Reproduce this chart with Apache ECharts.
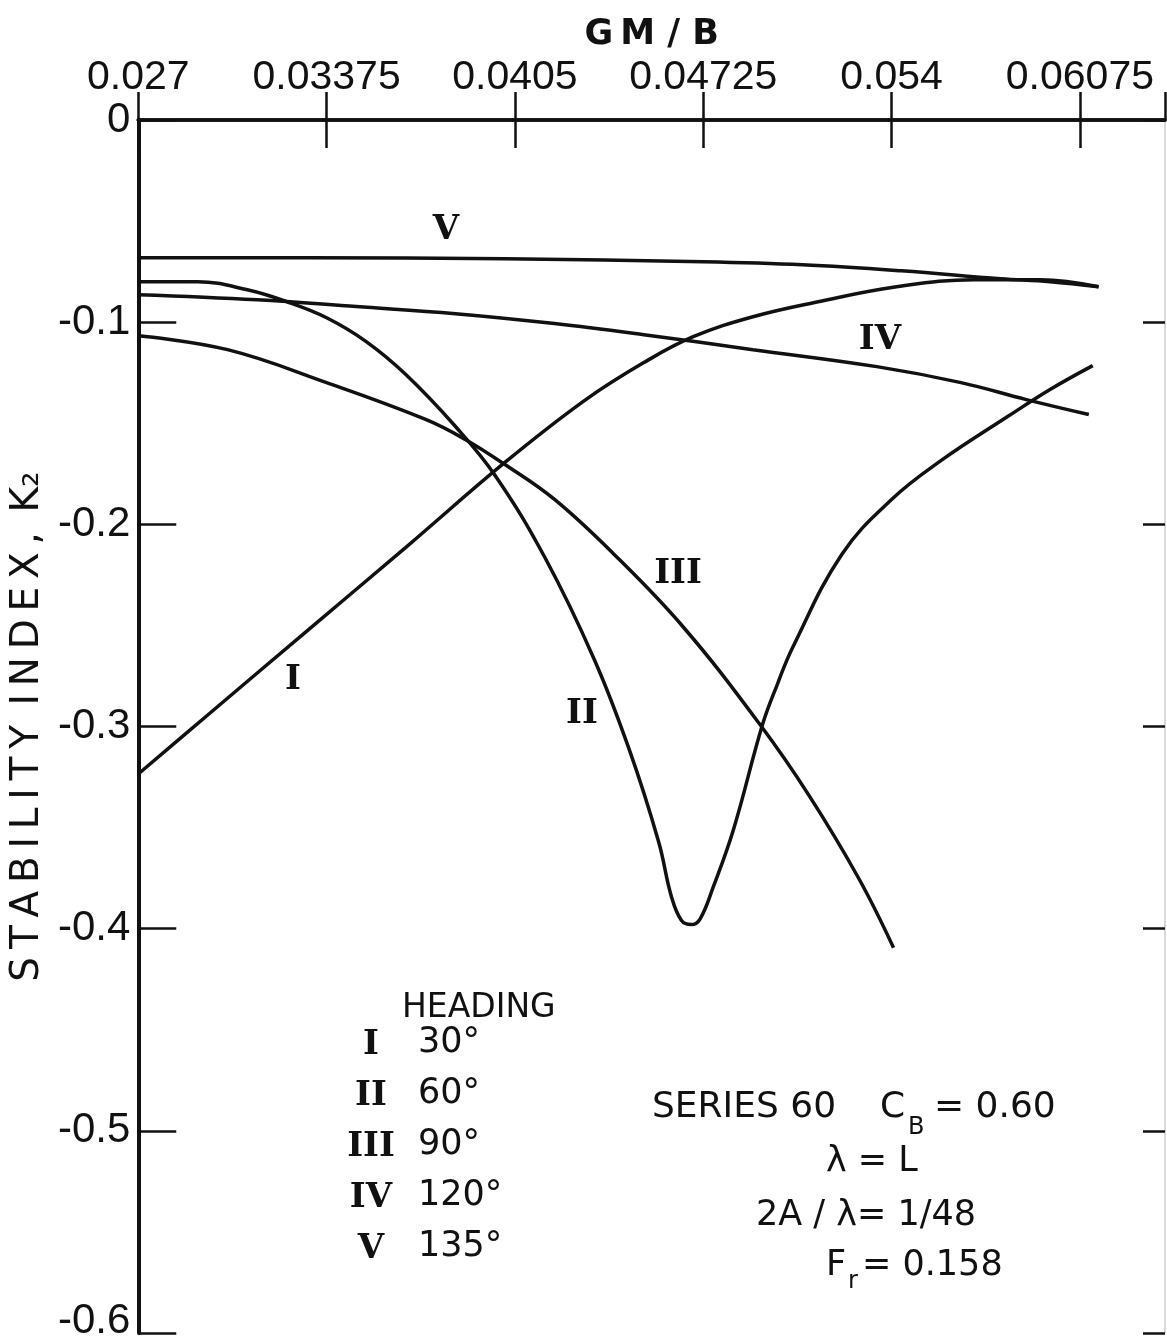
<!DOCTYPE html>
<html>
<head>
<meta charset="utf-8">
<script src="https://cdn.jsdelivr.net/npm/echarts@6/dist/echarts.min.js"></script>
<style>
html,body{margin:0;padding:0;background:#fff;}
#chart{width:1167px;height:1342px;}
</style>
</head>
<body>
<div id="chart"></div>
<script>
// ---- axis ticks ----
const xTickValues = [0.027, 0.03375, 0.0405, 0.04725, 0.054, 0.06075];
const xTickLabels = ['0.027', '0.03375', '0.0405', '0.04725', '0.054', '0.06075'];
const yTickValues = [0, -0.1, -0.2, -0.3, -0.4, -0.5, -0.6];
const yTickLabels = ['0', '-0.1', '-0.2', '-0.3', '-0.4', '-0.5', '-0.6'];

// ---- curves (GM/B, K2) ----
const headingNames = ['I', 'II', 'III', 'IV', 'V'];
const headingAngles = ['30°', '60°', '90°', '120°', '135°'];

const xI = [0.0270, 0.02949, 0.03304, 0.03659, 0.04014, 0.04299, 0.04512, 0.04689, 0.04903, 0.05137, 0.05418, 0.05698, 0.05933, 0.06142];
const yI = [-0.3235, -0.2943, -0.2528, -0.2114, -0.1694, -0.1388, -0.1200, -0.1072, -0.0973, -0.0899, -0.0825, -0.0790, -0.0790, -0.0825];

const xII = [0.0270, 0.02913, 0.03091, 0.03233, 0.03375, 0.03517, 0.03659, 0.03837, 0.03979, 0.04157, 0.04334, 0.04459, 0.04565, 0.04611, 0.04647, 0.04682, 0.04714, 0.04761, 0.04832, 0.04938, 0.04991, 0.05045, 0.05222, 0.05400, 0.05578, 0.05816, 0.05968, 0.06121];
const yII = [-0.0800, -0.0800, -0.0840, -0.0899, -0.0978, -0.1096, -0.1259, -0.1516, -0.1758, -0.2163, -0.2667, -0.3111, -0.3570, -0.3842, -0.3960, -0.3980, -0.3951, -0.3793, -0.3516, -0.2988, -0.2790, -0.2610, -0.2148, -0.1877, -0.1684, -0.1467, -0.1333, -0.1215];

const xIII = [0.0270, 0.03020, 0.03375, 0.03730, 0.03872, 0.04014, 0.04192, 0.04405, 0.04654, 0.04927, 0.05105, 0.05283, 0.05407];
const yIII = [-0.1067, -0.1136, -0.1299, -0.1481, -0.1580, -0.1704, -0.1877, -0.2148, -0.2509, -0.2988, -0.3343, -0.3753, -0.4094];

const xIV = [0.0270, 0.03126, 0.03482, 0.03837, 0.04192, 0.04512, 0.04903, 0.05347, 0.05649, 0.05883, 0.06107];
const yIV = [-0.0864, -0.0889, -0.0923, -0.0958, -0.1007, -0.1062, -0.1136, -0.1220, -0.1299, -0.1383, -0.1457];

const xV = [0.0270, 0.03304, 0.04014, 0.04725, 0.05080, 0.05436, 0.05791, 0.05968, 0.06142];
const yV = [-0.0681, -0.0681, -0.0686, -0.0701, -0.0716, -0.0746, -0.0785, -0.0800, -0.0825];

const curves = [[xI, yI], [xII, yII], [xIII, yIII], [xIV, yIV], [xV, yV]];

const INK = '#111';
const NUM_FONT = 'Liberation Sans';
const LET_FONT = 'DejaVu Sans';
const ROMAN_FONT = 'DejaVu Serif';

function zip(xs, ys) { return xs.map((x, i) => [x, ys[i]]); }
function findLabel(vals, labels, v) {
  for (let i = 0; i < vals.length; i++) if (Math.abs(vals[i] - v) < 1e-7) return labels[i];
  return '';
}

const chart = echarts.init(document.getElementById('chart'), null, {renderer: 'canvas'});

const series = curves.map((c, i) => ({
  name: headingNames[i],
  type: 'line',
  data: zip(c[0], c[1]),
  xAxisIndex: 0, yAxisIndex: 0,
  showSymbol: false,
  smooth: 0.4,
  lineStyle: {color: INK, width: 3.5},
  z: 3
}));

function txt(text, x, y, size, family, extra) {
  return {
    type: 'text', x: x, y: y, silent: true,
    style: Object.assign({text: text, fontSize: size, fontFamily: family, fill: INK,
      align: 'left', verticalAlign: 'middle'}, extra || {})
  };
}

const graphics = [];
// numerals on curves
const curveLabelPos = [[293, 680], [582, 714], [678, 574], [880, 340], [446, 230]];
headingNames.forEach((n, i) => {
  graphics.push(txt(n, curveLabelPos[i][0], curveLabelPos[i][1], 34, ROMAN_FONT,
    {align: 'center', fontWeight: 'bold'}));
});
// legend block
graphics.push(txt('HEADING', 402, 1008, 33, LET_FONT));
const legendRowsY = [1045, 1096, 1147, 1198, 1249];
headingNames.forEach((n, i) => {
  graphics.push(txt(n, 371, legendRowsY[i], 34, ROMAN_FONT, {align: 'center', fontWeight: 'bold'}));
  graphics.push(txt(headingAngles[i], 418, legendRowsY[i] - 2, 35, LET_FONT));
});
// condition annotations
graphics.push(txt('SERIES 60', 652, 1108, 36, LET_FONT));
graphics.push(txt('C', 880, 1108, 36, LET_FONT));
graphics.push(txt('B', 908, 1128, 24, LET_FONT));
graphics.push(txt('= 0.60', 934, 1108, 36, LET_FONT));
graphics.push(txt('λ = L', 826, 1162, 35, LET_FONT));
graphics.push(txt('2A / λ= 1/48', 756, 1216, 35, LET_FONT));
graphics.push(txt('F', 826, 1266, 35, LET_FONT));
graphics.push(txt('r', 848, 1282, 24, LET_FONT));
graphics.push(txt('= 0.158', 862, 1266, 35, LET_FONT));

const T = '\u2009';
const yName = ['S','T','A','B','I','L','I','T','Y'].join(T) + '\u2002' + ['I','N','D','E','X',','].join(T) + '\u2002K\u2082';

const option = {
  backgroundColor: '#fff',
  animation: false,
  grid: {left: 130, right: 2, top: 120, bottom: 7, containLabel: false},
  xAxis: [
    {
      type: 'value', position: 'top', min: 0.027, max: 0.0638, interval: 0.00675,
      name: 'G\u2009M / B', nameLocation: 'middle', nameGap: 56,
      nameTextStyle: {fontFamily: LET_FONT, fontSize: 35, fontWeight: 'bold', color: INK},
      axisLine: {show: true, lineStyle: {color: INK, width: 3.5}},
      axisTick: {show: true, inside: true, length: 28, lineStyle: {color: INK, width: 2.5}},
      axisLabel: {
        show: true, margin: 22, fontFamily: NUM_FONT, fontSize: 41, color: INK,
        showMaxLabel: false,
        formatter: v => findLabel(xTickValues, xTickLabels, v)
      },
      splitLine: {show: false}
    },
    {
      type: 'value', position: 'bottom', min: 0.027, max: 0.0638, interval: 0.00675,
      axisLine: {show: true, lineStyle: {color: INK, width: 3.5}},
      axisTick: {show: true, inside: true, length: 28, lineStyle: {color: INK, width: 2.5}},
      axisLabel: {show: false},
      splitLine: {show: false}
    }
  ],
  yAxis: [
    {
      type: 'value', position: 'left', min: -0.6, max: 0, interval: 0.1,
      name: yName,
      nameLocation: 'middle', nameGap: 86,
      nameTextStyle: {fontFamily: LET_FONT, fontSize: 39, color: INK},
      axisLine: {show: true, lineStyle: {color: INK, width: 4}},
      axisTick: {show: true, inside: true, length: 38, lineStyle: {color: INK, width: 2.5}},
      axisLabel: {
        show: true, margin: 8, fontFamily: NUM_FONT, fontSize: 42, color: INK,
        formatter: v => {
          const s = findLabel(yTickValues, yTickLabels, v);
          return Math.abs(v + 0.6) < 1e-7 ? '{lo|' + s + '}' : s;
        },
        rich: {lo: {fontFamily: NUM_FONT, fontSize: 42, color: INK, padding: [0, 0, 24, 0]}}
      },
      splitLine: {show: false}
    },
    {
      type: 'value', position: 'right', min: -0.6, max: 0, interval: 0.1,
      axisLine: {show: true, lineStyle: {color: '#ccc', width: 1.5}},
      axisTick: {show: true, inside: true, length: 22, lineStyle: {color: INK, width: 2.5}},
      axisLabel: {show: false},
      splitLine: {show: false}
    }
  ],
  graphic: graphics,
  series: series
};

chart.setOption(option);
</script>
</body>
</html>
